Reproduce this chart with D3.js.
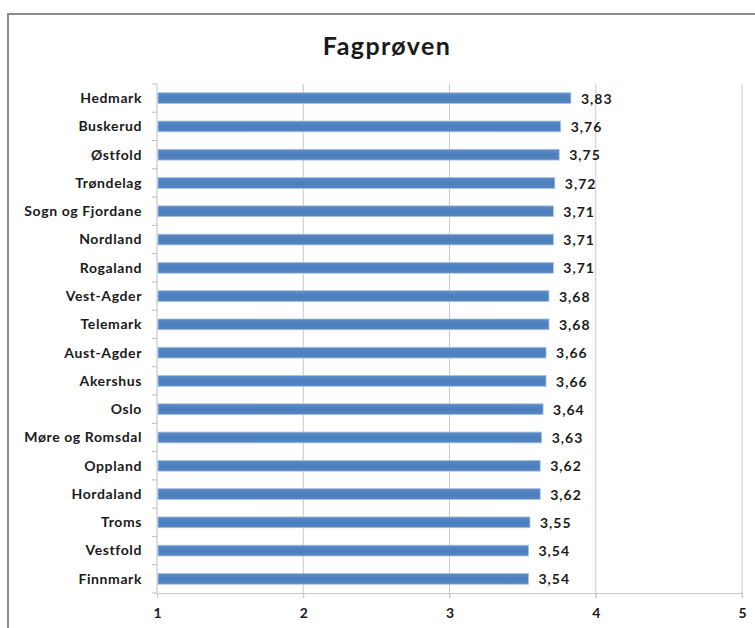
<!DOCTYPE html>
<html>
<head>
<meta charset="utf-8">
<script src="https://cdn.jsdelivr.net/npm/d3@7"></script>
<style>
  body { margin: 0; background: #fff; }
  svg text { font-family: Lato, "Open Sans", sans-serif; font-weight: bold; fill: #1a1a1a; }
</style>
</head>
<body>
<div id="chart"></div>
<script>
// data
const counties = ["Hedmark", "Buskerud", "Østfold", "Trøndelag", "Sogn og Fjordane", "Nordland",
  "Rogaland", "Vest-Agder", "Telemark", "Aust-Agder", "Akershus", "Oslo", "Møre og Romsdal",
  "Oppland", "Hordaland", "Troms", "Vestfold", "Finnmark"];
const scores = [3.83, 3.76, 3.75, 3.72, 3.71, 3.71, 3.71, 3.68, 3.68, 3.66, 3.66, 3.64, 3.63,
  3.62, 3.62, 3.55, 3.54, 3.54];
const xTicks = [1, 2, 3, 4, 5];

const W = 755, H = 628;
const margin = { top: 84, right: 13, bottom: 35, left: 157 };
const width = W - margin.left - margin.right;
const height = H - margin.top - margin.bottom;

const svg = d3.select("#chart").append("svg")
  .attr("width", W).attr("height", H);

// outer chart frame (cut off at right/bottom)
svg.append("rect")
  .attr("x", 8).attr("y", 14)
  .attr("width", W + 10).attr("height", H + 10)
  .attr("fill", "none").attr("stroke", "#8c8c8c").attr("stroke-width", 2);

svg.append("text")
  .attr("x", 387).attr("y", 55)
  .attr("text-anchor", "middle")
  .style("font-size", "25px")
  .style("letter-spacing", "1.4px")
  .text("Fagprøven");

const g = svg.append("g").attr("transform", `translate(${margin.left},${margin.top})`);

const x = d3.scaleLinear().domain([1, 5]).range([0, width]);
const y = d3.scaleBand().domain(counties).range([0, height]).paddingInner(0.62).paddingOuter(0.31);
const yb = d3.scaleBand().domain(counties).range([0, height]);

// gridlines
g.selectAll(".grid").data(xTicks.slice(1)).enter().append("line")
  .attr("x1", d => x(d)).attr("x2", d => x(d))
  .attr("y1", 0).attr("y2", height + 5)
  .attr("stroke", "#c8c8c8").attr("stroke-width", 1);

// x axis
const xAxis = g.append("g").attr("transform", `translate(0,${height})`)
  .call(d3.axisBottom(x).tickValues(xTicks).tickFormat(d3.format("d")).tickSize(5).tickPadding(10));
xAxis.select(".domain").attr("stroke", "#c8c8c8");
xAxis.selectAll("line").attr("stroke", "#c8c8c8");
xAxis.selectAll("text").style("font-size", "14px").attr("fill", "#1a1a1a");

// y axis with ticks between categories
g.append("line").attr("x1", 0).attr("x2", 0).attr("y1", 0).attr("y2", height)
  .attr("stroke", "#bdbdbd");
g.selectAll(".ytick").data(d3.range(counties.length + 1)).enter().append("line")
  .attr("x1", -5).attr("x2", 0)
  .attr("y1", i => i * yb.step()).attr("y2", i => i * yb.step())
  .attr("stroke", "#bdbdbd");

g.selectAll(".ylab").data(counties).enter().append("text")
  .attr("x", -15)
  .attr("y", d => yb(d) + yb.bandwidth() / 2)
  .attr("dy", "0.35em")
  .attr("text-anchor", "end")
  .style("font-size", "14px")
  .style("letter-spacing", "0.6px")
  .text(d => d);

// bars
const grad = svg.append("defs").append("linearGradient")
  .attr("id", "barGrad").attr("x1", 0).attr("x2", 0).attr("y1", 0).attr("y2", 1);
grad.append("stop").attr("offset", "0%").attr("stop-color", "#5b8cc6");
grad.append("stop").attr("offset", "50%").attr("stop-color", "#4a7ebd");
grad.append("stop").attr("offset", "100%").attr("stop-color", "#5586c2");

g.selectAll(".bar").data(counties).enter().append("rect")
  .attr("x", 1)
  .attr("y", d => y(d))
  .attr("width", (d, i) => x(scores[i]) - 1)
  .attr("height", y.bandwidth())
  .attr("fill", "url(#barGrad)")
  .attr("stroke", "#a9c1e0").attr("stroke-width", 0.8);

g.selectAll(".val").data(counties).enter().append("text")
  .attr("x", (d, i) => x(scores[i]) + 10)
  .attr("y", d => yb(d) + yb.bandwidth() / 2)
  .attr("dy", "0.4em")
  .style("font-size", "14px")
  .style("letter-spacing", "1px")
  .text((d, i) => scores[i].toFixed(2).replace(".", ","));
</script>
</body>
</html>
